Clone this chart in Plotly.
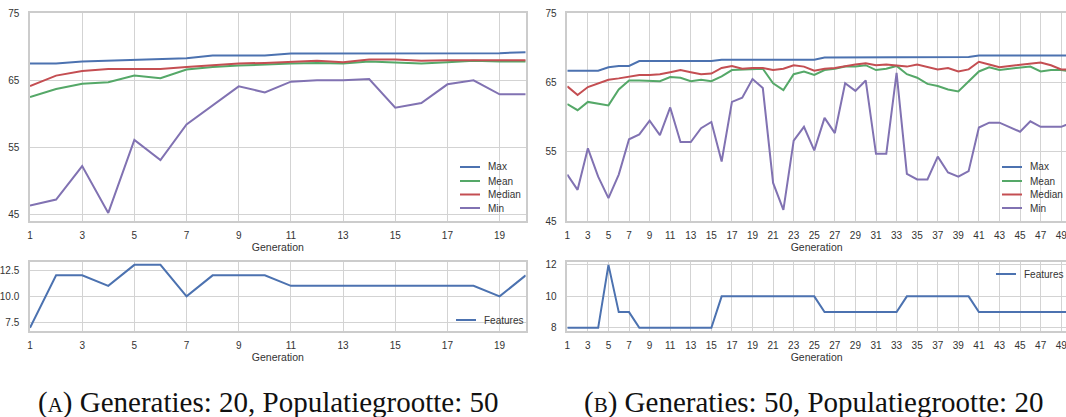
import plotly.graph_objects as go

# ---------------- data ----------------
gen_a = list(range(1, 21))
max_a = [67.5, 67.5, 67.8, 67.9, 68.1, 68.1, 68.3, 68.7, 68.7, 68.7,
         69.0, 69.0, 69.0, 69.0, 69.0, 69.0, 69.0, 69.0, 69.05, 69.2]
mean_a = [62.5, 63.7, 64.5, 64.7, 65.7, 65.3, 66.6, 67.0, 67.2, 67.4,
          67.5, 67.6, 67.5, 67.8, 67.7, 67.5, 67.7, 67.9, 67.8, 67.8]
median_a = [64.15, 65.7, 66.4, 66.7, 66.7, 66.7, 67.0, 67.3, 67.5, 67.6,
            67.7, 67.9, 67.7, 68.1, 68.1, 67.9, 68.0, 68.0, 68.1, 68.0]
min_a = [46.3, 47.2, 52.2, 45.2, 56.1, 53.1, 58.4, 61.3, 64.1, 63.2,
         64.8, 65.0, 65.0, 65.2, 60.9, 61.6, 64.4, 65.0, 62.9, 62.9]
feat_a = [7, 12, 12, 11, 13, 13, 10, 12, 12, 12,
          11, 11, 11, 11, 11, 11, 11, 11, 10, 12]

gen_b = list(range(1, 51))
max_b = [66.7, 66.7, 66.7, 66.7, 67.2, 67.4, 67.4, 68.1, 68.1, 68.1,
         68.1, 68.1, 68.1, 68.1, 68.1, 68.3, 68.3, 68.3, 68.3, 68.3,
         68.3, 68.3, 68.3, 68.3, 68.3, 68.6, 68.6, 68.6, 68.6, 68.6,
         68.6, 68.6, 68.6, 68.7, 68.7, 68.7, 68.7, 68.7, 68.7, 68.7,
         68.9, 68.9, 68.9, 68.9, 68.9, 68.9, 68.9, 68.9, 68.9, 68.9]
mean_b = [61.9, 61.0, 62.2, 62.0, 61.7, 64.0, 65.3, 65.3, 65.2, 65.2,
          65.8, 65.7, 65.2, 65.4, 65.2, 65.9, 66.8, 66.9, 67.0, 67.0,
          64.9, 63.9, 66.2, 66.6, 66.1, 66.8, 67.0, 67.3, 67.3, 67.5,
          66.8, 67.0, 67.4, 66.2, 65.7, 64.8, 64.5, 64.0, 63.7, 65.2,
          66.6, 67.2, 66.8, 67.0, 67.1, 67.3, 66.6, 66.8, 66.8, 66.6]
median_b = [64.45, 63.2, 64.35, 64.9, 65.4, 65.6, 65.9, 66.1, 66.1, 66.2,
            66.5, 66.8, 66.5, 66.2, 66.3, 67.1, 67.4, 67.0, 67.1, 67.1,
            66.8, 67.0, 67.5, 67.3, 66.7, 67.0, 67.1, 67.4, 67.6, 67.8,
            67.5, 67.6, 67.5, 67.3, 67.6, 67.3, 66.9, 67.1, 66.6, 66.9,
            68.0, 67.6, 67.2, 67.4, 67.6, 67.7, 67.9, 67.5, 66.9, 66.9]
min_b = [51.7, 49.5, 55.5, 51.4, 48.3, 51.7, 56.8, 57.5, 59.5, 57.4,
         61.4, 56.4, 56.4, 58.4, 59.3, 53.6, 62.2, 62.8, 65.5, 64.2,
         50.5, 46.6, 56.6, 58.6, 55.2, 59.9, 57.7, 64.9, 63.8, 65.3,
         54.7, 54.7, 66.4, 51.8, 51.0, 51.0, 54.3, 52.0, 51.4, 52.2,
         58.5, 59.2, 59.2, 58.6, 57.9, 59.4, 58.6, 58.6, 58.6, 59.2]
feat_b = [8, 8, 8, 8, 12, 9, 9, 8, 8, 8,
          8, 8, 8, 8, 8, 10, 10, 10, 10, 10,
          10, 10, 10, 10, 10, 9, 9, 9, 9, 9,
          9, 9, 9, 10, 10, 10, 10, 10, 10, 10,
          9, 9, 9, 9, 9, 9, 9, 9, 9, 9]

series_names = ["Max", "Mean", "Median", "Min"]
feature_name = "Features"
caption_a = "(<span style='font-size:21px'>A</span>) Generaties: 20, Populatiegrootte: 50"
caption_b = "(<span style='font-size:21px'>B</span>) Generaties: 50, Populatiegrootte: 20"

# ---------------- style ----------------
W, H = 1066, 417
COLORS = ["#4C72B0", "#55A868", "#C44E52", "#8172B2"]
GRID = "#d3d3d3"
SANS = "Liberation Sans, Arial, sans-serif"
SERIF = "Liberation Serif, Times New Roman, serif"
TXT = "#333333"


def px_x(p):
    return p / W


def px_y(p):
    return 1 - p / H


fig = go.Figure()

for name, col, v in zip(series_names, COLORS, [max_a, mean_a, median_a, min_a]):
    fig.add_trace(go.Scatter(x=gen_a, y=v, mode="lines", name=name,
                             line=dict(color=col, width=2), xaxis="x", yaxis="y"))
fig.add_trace(go.Scatter(x=gen_a, y=feat_a, mode="lines", name=feature_name,
                         line=dict(color=COLORS[0], width=2), xaxis="x2", yaxis="y2"))
for name, col, v in zip(series_names, COLORS, [max_b, mean_b, median_b, min_b]):
    fig.add_trace(go.Scatter(x=gen_b, y=v, mode="lines", name=name,
                             line=dict(color=col, width=2), xaxis="x3", yaxis="y3"))
fig.add_trace(go.Scatter(x=gen_b, y=feat_b, mode="lines", name=feature_name,
                         line=dict(color=COLORS[0], width=2), xaxis="x4", yaxis="y4"))


def xax(domain, rng, anchor, mirror=True):
    return dict(domain=domain, range=rng, anchor=anchor, automargin=False,
                tickmode="linear", tick0=1, dtick=2, ticklabeloverflow="allow",
                showgrid=True, gridcolor=GRID, gridwidth=1.3,
                showline=True, linecolor="#cccccc", linewidth=1.5, mirror=mirror,
                zeroline=False, ticks="", ticklabelstandoff=4,
                tickfont=dict(family=SANS, size=10, color=TXT),
                title=dict(text="Generation", standoff=3,
                           font=dict(family=SANS, size=10.5, color=TXT)))


def yax(domain, rng, anchor, tick0, dtick, fmt=None, mirror=True):
    d = dict(domain=domain, range=rng, anchor=anchor, automargin=False,
             tickmode="linear", tick0=tick0, dtick=dtick,
             showgrid=True, gridcolor=GRID, gridwidth=1.3,
             showline=True, linecolor="#cccccc", linewidth=1.5, mirror=mirror,
             zeroline=False, ticks="", ticklabelstandoff=7,
             tickfont=dict(family=SANS, size=10, color=TXT))
    if fmt:
        d["tickformat"] = fmt
    return d


xl = [px_x(30), px_x(525.7)]
xr = [px_x(567.3), 1.0]
ytop = [px_y(221), px_y(13.3)]
ybot = [px_y(331), px_y(261.7)]
rng_b = [1, 1 + (W - 567.3) / 10.29]

# ---------------- hand-made legends (compact, matplotlib style) ----------------
shapes, annots = [], []


def add_legend(x_line0, y_rows, names, colors):
    for yy, nm, col in zip(y_rows, names, colors):
        shapes.append(dict(type="line", xref="paper", yref="paper",
                           x0=px_x(x_line0), x1=px_x(x_line0 + 20),
                           y0=px_y(yy), y1=px_y(yy),
                           line=dict(color=col, width=2)))
        annots.append(dict(text=nm, x=px_x(x_line0 + 26), y=px_y(yy),
                           xref="paper", yref="paper", xanchor="left", yanchor="middle",
                           showarrow=False,
                           font=dict(family=SANS, size=10, color=TXT)))


rows_top = [167, 181, 194.5, 208]
add_legend(460, rows_top, series_names, COLORS)
add_legend(1002, rows_top, series_names, COLORS)
add_legend(456, [320], [feature_name], [COLORS[0]])
add_legend(996, [274], [feature_name], [COLORS[0]])

annots.append(dict(text=caption_a, x=px_x(268), y=px_y(402), xref="paper", yref="paper",
                   xanchor="center", yanchor="middle", showarrow=False,
                   font=dict(family=SERIF, size=29, color="#111111")))
annots.append(dict(text=caption_b, x=px_x(813), y=px_y(402), xref="paper", yref="paper",
                   xanchor="center", yanchor="middle", showarrow=False,
                   font=dict(family=SERIF, size=29, color="#111111")))

fig.update_layout(
    width=W, height=H,
    margin=dict(l=0, r=0, t=0, b=0, autoexpand=False),
    paper_bgcolor="white", plot_bgcolor="white",
    showlegend=False,
    xaxis=xax(xl, [1, 20], "y"),
    yaxis=yax(ytop, [44, 75], "x", 45, 10),
    xaxis2=xax(xl, [1, 20], "y2"),
    yaxis2=yax(ybot, [6.7, 13.3], "x2", 7.5, 2.5, ".1f"),
    xaxis3=xax(xr, rng_b, "y3"),
    yaxis3=yax(ytop, [45, 75], "x3", 45, 10, mirror=False),
    xaxis4=xax(xr, rng_b, "y4"),
    yaxis4=yax(ybot, [7.8, 12.2], "x4", 8, 2, mirror=False),
    shapes=shapes,
    annotations=annots,
)

fig.write_html("out.html",
               config={"displayModeBar": False},
               post_script="document.body.style.margin='0px';"
                           "document.body.style.overflow='hidden';")
